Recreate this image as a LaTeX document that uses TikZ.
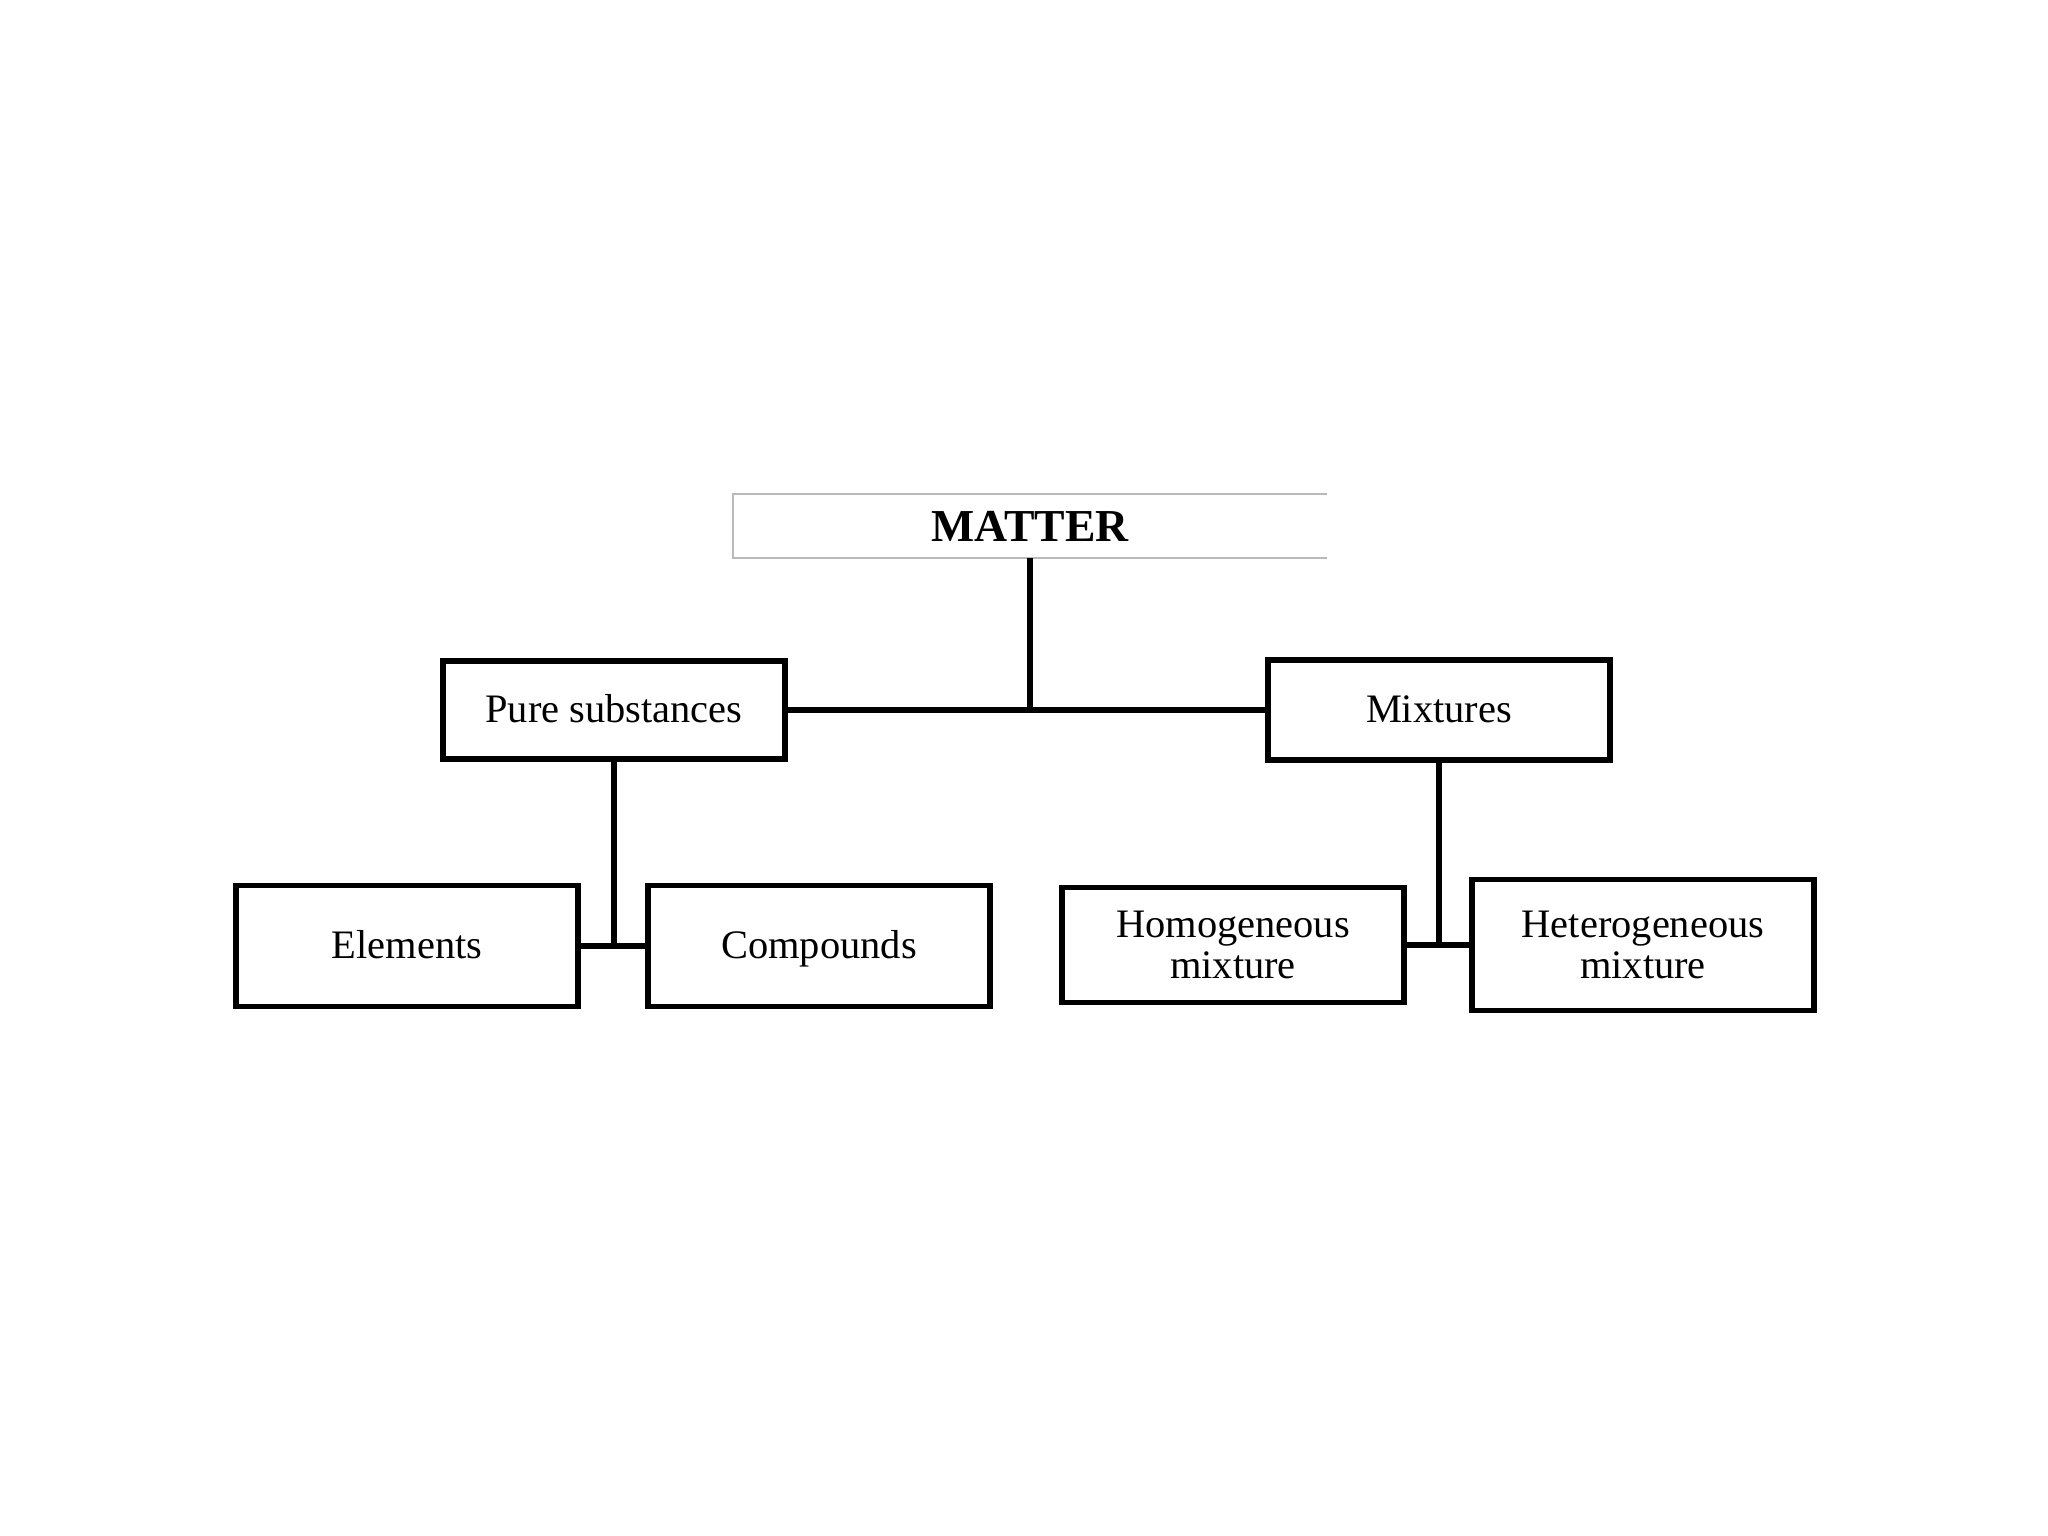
\documentclass[tikz,border=0pt]{standalone}
\usepackage{fontspec}
\setmainfont{Liberation Serif}
\usepackage{tikz}

\tikzset{
  classbox/.style={draw, line width=1.5pt, minimum width=3.42cm, inner sep=0pt,
    align=center, font=\fontsize{11.5}{11.5}\selectfont},
  oneline/.style={text height=0.9em, text depth=0.2em},
  link/.style={line width=1.6pt}
}

\begin{document}
\begin{tikzpicture}[x=0.01cm,y=-0.01cm]
\useasboundingbox (0,0) rectangle (2048,1536);
% top of the tree
\node[minimum width=5.92cm, minimum height=0.63cm, inner sep=0pt,
  font=\fontsize{13}{13}\selectfont\bfseries] (matter) at (1030,526) {MATTER};
\draw[gray!55, line width=0.7pt] (matter.north east) -- (matter.north west)
  -- (matter.south west) -- (matter.south east);
% second level
\node[classbox, oneline, minimum height=0.98cm] (pure) at (614,710) {Pure substances};
\node[classbox, oneline, minimum height=1.0cm] (mix) at (1439,710) {Mixtures};
% third level
\node[classbox, oneline, minimum height=1.21cm] (elem) at (407,946) {Elements};
\node[classbox, oneline, minimum height=1.21cm] (comp) at (819,946) {Compounds};
\node[classbox, minimum height=1.15cm] (homo) at (1233,945) {Homogeneous\\mixture};
\node[classbox, minimum height=1.31cm] (hetero) at (1643,945) {Heterogeneous\\mixture};
% connectors
\draw[link] (pure.east) -- (mix.west);
\draw[link] (matter.south) -- (matter.south |- pure.east);
\draw[link] (elem.east) -- (comp.west);
\draw[link] (pure.south) -- (pure.south |- elem.east);
\draw[link] (homo.east) -- (hetero.west);
\draw[link] (mix.south) -- (mix.south |- homo.east);
\end{tikzpicture}
\end{document}
